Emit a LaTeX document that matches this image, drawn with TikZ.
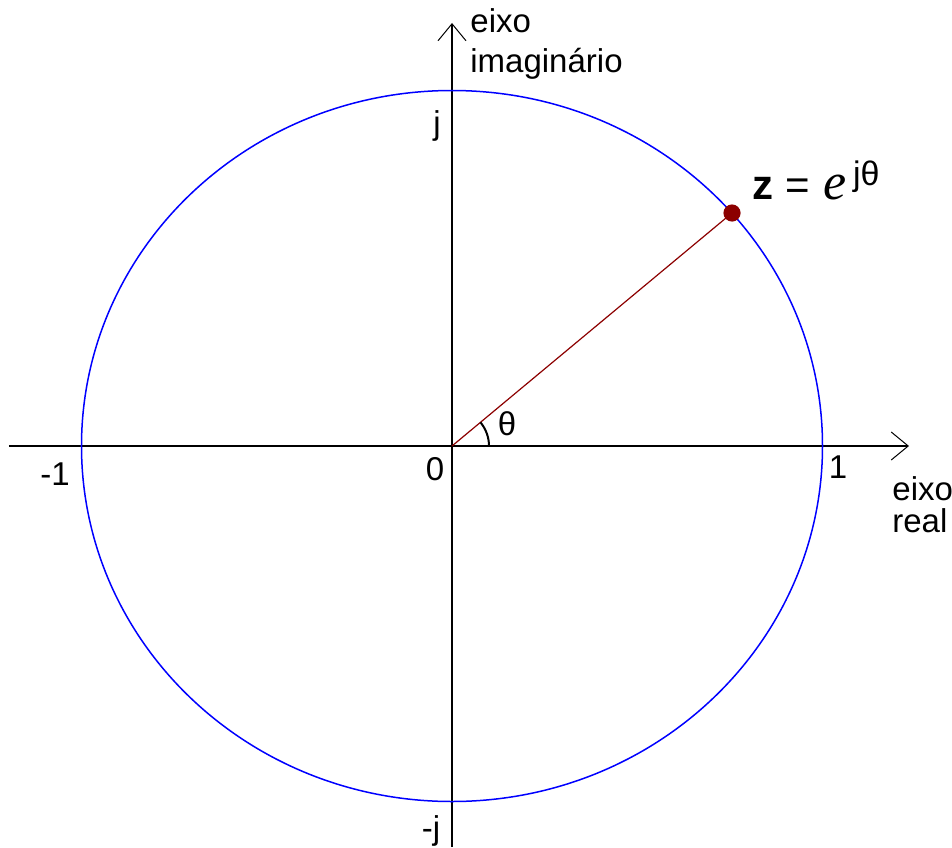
\documentclass[tikz,border=0pt]{standalone}
\usepackage{fontspec}
\setmainfont{Liberation Sans}
\newfontfamily\eserif{Liberation Serif}
\usetikzlibrary{arrows.meta, angles}

\begin{document}
\begin{tikzpicture}[
    x=0.5pt, y=0.5pt,
    every node/.style={font=\fontsize{16.5}{19}\selectfont, inner sep=0pt},
    axis/.style ={line width=0.75pt, -{Straight Barb[length=8.5pt, width=14pt, line width=0.5pt]}},
    unit/.style ={blue, line width=0.75pt},
    ray/.style  ={red!55!black, line width=0.6pt},
    dot/.style  ={circle, fill=red!55!black, minimum size=8.6pt},
    axlabel/.style={align=left, anchor=base west},
]
\useasboundingbox (-452,-401) rectangle (500,446);
\coordinate (o)  at (0,0);
\coordinate (xs) at (-443,0);
\coordinate (xe) at (457,0);
\coordinate (ys) at (0,-401);
\coordinate (ye) at (0,423);
% axes and the unit circle
\draw[axis] (xs) -- (xe);
\draw[axis] (ys) -- (ye);
\draw[unit] (o) ellipse [x radius=185.25pt, y radius=177.75pt];
\node[dot] (z) at (280,233) {};
\draw[ray] (o) -- (z.center);
\pic[draw, line width=1pt, angle radius=18.5pt] {angle = xe--o--z};
% labels
\node[anchor=base] (th)   at (55,11)    {θ};
\node[anchor=base] (zero) at (-17,-34)  {0};
\node[anchor=base] (m1)   at (-397,-39) {-1};
\node[anchor=base] (p1)   at (386,-32)  {1};
\node[anchor=base] (pj)   at (-15,312)  {j};
\node[anchor=base] (mj)   at (-21,-393) {-j};
\node[axlabel, font=\fontsize{16.5}{20}\selectfont] (im) at (18,373) {eixo\\imaginário};
\node[axlabel, font=\fontsize{16.5}{16}\selectfont] (re) at (440,-86) {eixo\\real};
\node[anchor=base west, font=\fontsize{21}{21}\selectfont] (zl) at (300,247)
     {\textbf{z}\hspace{6pt}=\hspace{7pt}{\eserif\itshape\fontsize{26}{26}\selectfont e}\hspace{3pt}\raisebox{7pt}{\fontsize{17}{17}\selectfont jθ}};
\end{tikzpicture}
\end{document}
